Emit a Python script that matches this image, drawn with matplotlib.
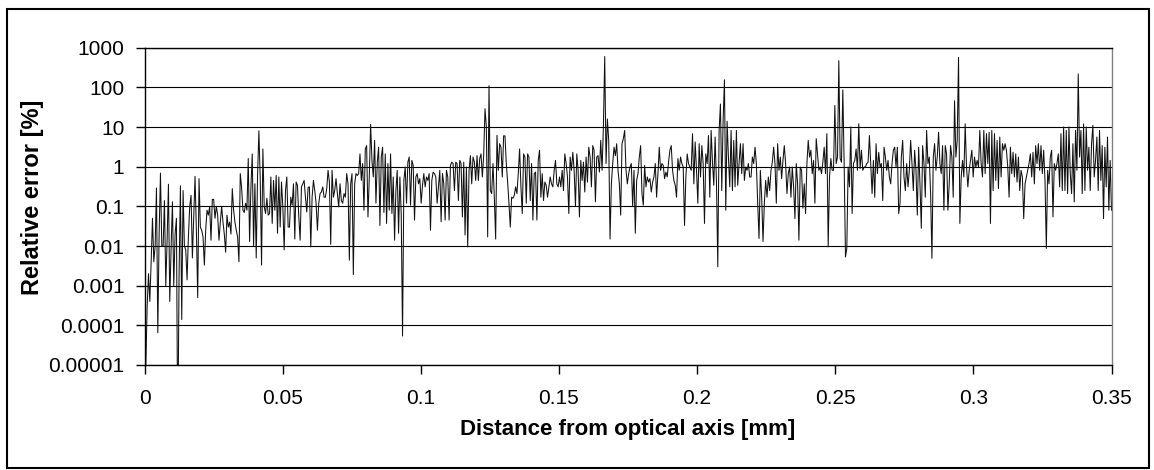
import numpy as np
import matplotlib
matplotlib.use("Agg")
import matplotlib.pyplot as plt
from matplotlib.patches import Rectangle
from matplotlib.ticker import FixedLocator, FixedFormatter, NullLocator

plt.rcParams["font.family"] = ["Liberation Sans", "DejaVu Sans"]

# Relative error [%] along the radial profile, sampled uniformly from 0 to 0.35 mm.
# A zero entry (below the lowest decade) is drawn as a drop to the axis.
relative_error = [
    # 0 - 0.043 mm
    3.5e-5, 1e-5, 3e-4, 2e-3, 4e-4, 4e-3, 0.05, 4e-3, 0.01, 0.29,
    6.5e-5, 0.02, 0.69, 0.01, 0.01, 0.14, 1e-3, 0.014, 0.36, 4e-4,
    9e-3, 0.13, 1e-3, 0.02, 0.05, 1e-7, 2e-3, 0.33, 1.4e-4, 0.25,
    0.01, 8e-3, 1.4e-3, 0.017, 0.1, 0.19, 5e-3, 0.05, 0.57, 0.025,
    5e-4, 0.5, 0.03, 0.025, 0.017, 3.3e-3, 0.025, 0.08, 0.06, 0.1,
    0.014, 0.15, 0.15, 0.05, 0.1, 0.06, 0.014, 0.04, 0.1, 0.04,
    0.02, 7e-3, 0.06, 0.03, 0.04, 0.02, 0.28, 0.08, 0.04, 0.025,
    0.017, 4e-3, 0.67, 0.3, 0.08, 0.07, 0.12, 0.08, 1.6, 0.013,
    0.3, 2.1, 0.01,
    # 0.04 - 0.09 mm
    0.37, 0.005, 0.6, 8, 0.5, 0.0033, 2.8, 0.1, 0.066, 0.16,
    0.06, 0.066, 0.55, 0.037, 0.45, 0.08, 0.6, 0.021, 0.55, 0.03,
    0.41, 0.1, 0.008, 0.25, 0.55, 0.03, 0.03, 0.17, 0.107, 0.37,
    0.015, 0.41, 0.34, 0.054, 0.014, 0.31, 0.37, 0.45, 0.17, 0.072,
    0.3, 0.31, 0.0095, 0.17, 0.45, 0.25, 0.12, 0.025, 0.12, 0.21,
    0.23, 0.31, 0.17, 0.17, 0.28, 0.81, 0.41, 0.011, 0.81, 0.17,
    0.25, 0.5, 0.21, 0.097, 0.37, 0.14, 0.12, 0.21, 0.17, 0.67,
    0.37, 0.0044, 0.37, 0.67, 0.0019, 0.37, 0.67, 0.6, 0.67, 2.1,
    0.45, 1.2, 0.08, 2.8, 3.4, 0.054, 0.55, 11.6, 1.44, 0.55,
    4.6, 0.12, 1.3, 3.1,
    # 0.09 - 0.13 mm
    0.033, 1.75, 3.1, 0.07, 2.1, 0.037, 1.2, 0.08, 2.1, 0.066,
    0.55, 0.014, 0.25, 0.81, 0.021, 0.55, 0.066, 5.4e-5, 0.45, 0.98,
    0.12, 1.3, 1.75, 0.107, 1.44, 1.08, 0.045, 0.55, 0.67, 0.37,
    0.5, 0.12, 0.34, 0.67, 0.31, 0.55, 0.45, 0.67, 0.025, 0.45,
    0.73, 0.67, 0.55, 0.12, 0.31, 0.81, 0.041, 0.67, 0.37, 0.045,
    0.81, 0.55, 0.045, 1.08, 1.3, 1.2, 0.25, 1.3, 1.2, 0.14,
    1.44, 1.2, 0.054, 1.3, 0.019, 0.98, 0.0095, 0.81, 1.9, 0.37,
    1.75, 1.3, 0.45, 1.9, 0.45, 1.6, 2.1, 0.55, 1.9, 29,
    10, 0.017, 110, 0.25, 0.21, 1.2, 0.17, 0.015, 6.2, 0.81,
    3.8, 3.1, 0.55, 6,
    # 0.13 - 0.18 mm
    6, 1.2, 0.41, 0.12, 0.03, 0.17, 0.16, 0.19, 0.31, 0.21,
    0.67, 2.8, 0.31, 0.066, 2.1, 1.75, 0.12, 2.1, 1.75, 0.14,
    1.2, 0.045, 0.67, 0.73, 0.045, 1.44, 2.6, 0.17, 0.67, 0.14,
    0.41, 0.34, 0.17, 0.31, 0.55, 0.37, 0.31, 0.81, 1.44, 0.37,
    0.31, 0.55, 0.31, 0.81, 0.25, 2.1, 1.2, 0.55, 0.066, 1.75,
    0.81, 2.3, 0.81, 0.1, 2.1, 0.81, 0.054, 1.44, 0.45, 1.3,
    0.23, 1.75, 0.41, 3.1, 1.75, 0.31, 3.4, 2.6, 0.13, 1.75,
    1.9, 0.73, 4.6, 0.81, 10, 600, 1.2, 16, 4.6, 0.015,
    0.37, 1.2, 3.1, 1.9, 3.8, 0.81, 0.37, 0.06, 3.8, 5.1,
    8.2, 0.81, 0.37, 0.67,
    # 0.18 - 0.22 mm
    0.98, 1.2, 0.1, 0.81, 0.021, 0.45, 0.67, 1.75, 3.4, 0.21,
    0.107, 1.08, 0.31, 0.55, 0.41, 0.5, 0.23, 0.41, 0.55, 1.2,
    0.17, 0.67, 3.1, 0.81, 1.2, 1.08, 0.5, 0.73, 0.55, 1.3,
    2.6, 3.4, 0.81, 0.45, 0.34, 0.17, 1.6, 0.81, 1.75, 1.2,
    0.98, 0.033, 0.55, 2.1, 1.2, 0.98, 0.81, 6.8, 0.37, 4.2,
    0.81, 0.12, 3.8, 0.55, 3.4, 1.2, 0.037, 2.1, 1.2, 6.1,
    0.17, 8.2, 1.3, 0.34, 5.6, 0.41, 0.003, 8.2, 38, 0.25,
    14, 155, 0.08, 14, 1.75, 0.31, 8.2, 0.25, 4.6, 0.31,
    8.2, 0.34, 1.2, 3.8, 0.67, 3.8, 0.45, 0.98, 0.81, 1.2,
    0.55, 0.55, 1.75, 1.2,
    # 0.22 - 0.27 mm
    3.1, 1.2, 0.12, 0.0155, 0.81, 0.17, 0.013, 0.12, 0.45, 0.17,
    0.55, 0.25, 0.81, 1.3, 3.1, 1.2, 0.12, 3.8, 0.81, 1.75,
    0.5, 1.44, 3.4, 1.2, 0.21, 0.67, 0.98, 0.17, 0.98, 0.31,
    0.049, 1.2, 0.37, 0.014, 0.98, 0.81, 0.09, 0.37, 0.066, 1.2,
    4.6, 1.75, 2.6, 0.67, 1.44, 0.12, 5.1, 2.1, 0.81, 0.98,
    0.67, 1.3, 3.1, 0.67, 6.8, 0.0095, 0.55, 1.6, 0.81, 0.81,
    35, 1.2, 1.75, 470, 1.6, 1.3, 86, 1.2, 0.0053, 0.0087,
    0.98, 0.31, 10, 0.066, 1.2, 1.44, 2.8, 0.81, 12, 0.89,
    2.6, 0.81, 0.98, 0.98, 1.2, 1.3, 6.1, 1.2, 0.21, 1.44,
    0.17, 3.8, 0.67, 2.3,
    # 0.27 - 0.31 mm
    0.98, 1.2, 0.14, 3.1, 1.75, 0.81, 1.44, 0.55, 0.37, 1.2,
    2.6, 3.1, 0.98, 3.1, 0.066, 0.12, 1.75, 4.6, 0.55, 0.25,
    1.2, 0.31, 0.81, 4.6, 1.2, 0.25, 2.6, 0.81, 0.06, 3.1,
    0.37, 0.028, 3.4, 1.2, 0.17, 8.2, 1.2, 1.75, 0.21, 0.0049,
    1.75, 3.8, 0.81, 1.75, 7.4, 1.2, 0.67, 3.4, 0.08, 3.4,
    2.1, 0.08, 0.37, 3.4, 1.75, 0.17, 46, 1.75, 4.6, 570,
    0.037, 0.55, 1.44, 0.55, 12, 0.98, 0.31, 0.81, 1.44, 2.6,
    0.55, 1.75, 0.98, 1.44, 0.98, 8.2, 1.2, 0.55, 8.2, 0.67,
    6.8, 1.2, 7.4, 0.037, 8.2, 0.25, 6.8, 0.45, 4.6, 0.28,
    5.6, 0.55, 3.8, 2.6,
    # 0.31 - 0.35 mm
    3.8, 2.6, 0.98, 0.17, 3.1, 0.67, 2.3, 0.55, 2.1, 0.41,
    1.75, 0.25, 0.81, 0.55, 0.049, 0.37, 0.55, 0.81, 1.2, 2.1,
    0.55, 2.3, 0.37, 3.4, 1.2, 3.8, 0.81, 3.4, 0.67, 2.6,
    0.45, 0.0087, 0.81, 0.37, 1.75, 2.6, 0.054, 1.2, 0.81, 1.2,
    2.1, 0.31, 6.8, 0.25, 10, 0.25, 8.2, 0.21, 10, 0.67,
    0.21, 3.8, 0.13, 8.2, 0.81, 218, 1.75, 8.2, 0.21, 12,
    0.25, 10, 0.81, 3.1, 0.25, 3.8, 11, 0.55, 1.44, 5.6,
    0.25, 8.2, 0.45, 3.4, 0.049, 3.1, 0.31, 5.6, 0.08, 1.44,
    0.08,
]
distance_mm = np.linspace(0.0, 0.35, len(relative_error))

y_ticks = [1e-5, 1e-4, 1e-3, 1e-2, 1e-1, 1, 10, 100, 1000]
y_tick_labels = ["0.00001", "0.0001", "0.001", "0.01", "0.1", "1", "10", "100", "1000"]
x_ticks = [0, 0.05, 0.1, 0.15, 0.2, 0.25, 0.3, 0.35]
x_tick_labels = ["0", "0.05", "0.1", "0.15", "0.2", "0.25", "0.3", "0.35"]

W, H = 1154, 470
fig = plt.figure(figsize=(W / 100, H / 100), dpi=100)
fig.patch.set_facecolor("white")

# outer chart frame
fig.patches.append(Rectangle((7 / W, 1 - 468 / H), (1149 - 7) / W, (468 - 9) / H,
                             transform=fig.transFigure, fill=False,
                             edgecolor="black", linewidth=1.5))

left, right, top, bottom = 144.5, 1111.5, 47.7, 365.0
ax = fig.add_axes([left / W, 1 - bottom / H, (right - left) / W, (bottom - top) / H])

ax.plot(distance_mm, relative_error, color="#111111", linewidth=0.75)

ax.set_yscale("log")
ax.set_ylim(1e-5, 1000)
ax.set_xlim(0, 0.35)

ax.yaxis.set_major_locator(FixedLocator(y_ticks))
ax.yaxis.set_major_formatter(FixedFormatter(y_tick_labels))
ax.yaxis.set_minor_locator(NullLocator())
ax.xaxis.set_major_locator(FixedLocator(x_ticks))
ax.xaxis.set_major_formatter(FixedFormatter(x_tick_labels))

ax.grid(axis="y", which="major", color="black", linewidth=0.8)
ax.set_axisbelow(True)

for side in ["left", "bottom", "top"]:
    ax.spines[side].set_color("black")
    ax.spines[side].set_linewidth(1.0)
ax.spines["right"].set_color("#808080")
ax.spines["right"].set_linewidth(1.0)

ax.tick_params(axis="both", direction="out", length=6.5, width=1.0, color="black",
               labelsize=15)
ax.tick_params(axis="y", pad=8)
ax.tick_params(axis="x", pad=11)

ax.set_xlabel("Distance from optical axis [mm]", fontsize=16, fontweight="bold")
ax.set_ylabel("Relative error [%]", fontsize=17, fontweight="bold")
ax.xaxis.set_label_coords(0.5, -(429 - bottom) / (bottom - top))
ax.xaxis.label.set_va("center")
ax.yaxis.set_label_coords((32.5 - left) / (right - left), (bottom - 197.5) / (bottom - top))
ax.yaxis.label.set_va("center")

fig.savefig("out.png", dpi=100, facecolor="white")
